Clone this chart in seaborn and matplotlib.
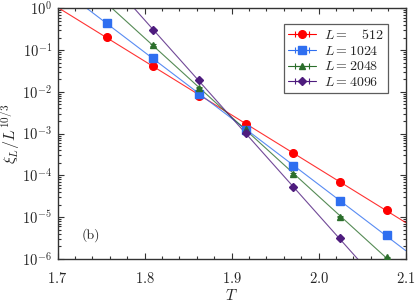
import numpy as np
import pandas as pd
import matplotlib
matplotlib.use("Agg")
import matplotlib.pyplot as plt
import seaborn as sns
from matplotlib.ticker import LogLocator, MultipleLocator, NullFormatter

# ---- data ----
T = [1.757, 1.810, 1.862, 1.916, 1.970, 2.024, 2.079]
L_sizes = [512, 1024, 2048, 4096]
xi_512 = [0.209, 0.0416, 0.00796, 1.67e-3, 3.38e-4, 7.08e-5, 1.49e-5]
xi_1024 = [0.452, 0.0636, 0.00889, 1.22e-3, 1.71e-4, 2.48e-5, 3.75e-6]
T_2048 = [1.810, 1.862, 1.916, 1.970, 2.024, 2.079]
xi_2048 = [0.132, 0.0126, 1.31e-3, 1.08e-4, 1.03e-5, 1.10e-6]
T_4096 = [1.810, 1.862, 1.916, 1.970, 2.024]
xi_4096 = [0.303, 0.0192, 1.04e-3, 5.37e-5, 3.13e-6]
labels = [r"$L=\ \ \ 512$", r"$L=1024$", r"$L=2048$", r"$L=4096$"]

series = [(T, xi_512), (T, xi_1024), (T_2048, xi_2048), (T_4096, xi_4096)]
colors = ["#ff0000", "#2f6ff0", "#2b6e2b", "#4e1c7e"]
markers = ["o", "s", "^", "D"]
msizes = [5.5, 5.5, 5.0, 4.0]

sns.set_theme(style="ticks")
plt.rcParams.update({
    "font.family": "serif",
    "font.serif": ["cmr10", "DejaVu Serif"],
    "mathtext.fontset": "cm",
    "axes.formatter.use_mathtext": True,
    "axes.unicode_minus": False,
    "font.size": 10,
})

fig = plt.figure(figsize=(4.15, 3.02), dpi=100)
ax = fig.add_axes([0.1386, 0.1424, 0.9776 - 0.1386, 0.9725 - 0.1424])

Tfit = np.linspace(1.7, 2.1, 200)
handles = []
for (tt, vv), c, m, ms, lab in zip(series, colors, markers, msizes, labels):
    tt = np.array(tt); vv = np.array(vv)
    p = np.polyfit(tt, np.log10(vv), 1)
    fit_df = pd.DataFrame({"T": Tfit, "xi": 10 ** np.polyval(p, Tfit)})
    sns.lineplot(data=fit_df, x="T", y="xi", ax=ax, color=c, lw=0.8,
                 alpha=0.8, legend=False)
    ax.errorbar(tt, vv, yerr=0.04 * vv, fmt=m, color=c, ms=ms,
                elinewidth=0.8, capsize=2.0, capthick=0.8, zorder=5)
    # legend proxy (placed outside the visible range) showing horizontal bars
    h = ax.errorbar([-10.0], [1e-3], xerr=[0.05], fmt=m + "-", color=c, ms=ms,
                    lw=0.8, elinewidth=0.8, capsize=2.5, capthick=0.8,
                    label=lab)
    handles.append(h)

ax.set_yscale("log")
ax.set_xlim(1.7, 2.1)
ax.set_ylim(1e-6, 1)
ax.xaxis.set_major_locator(MultipleLocator(0.1))
ax.xaxis.set_minor_locator(MultipleLocator(0.02))
ax.yaxis.set_major_locator(LogLocator(base=10, numticks=10))
ax.yaxis.set_minor_locator(LogLocator(base=10, subs=np.arange(2, 10), numticks=20))
ax.yaxis.set_minor_formatter(NullFormatter())
ax.tick_params(which="both", direction="in", top=True, right=True,
               labelsize=10.5, width=0.8, color="#333333")
ax.tick_params(which="major", length=4)
ax.tick_params(which="minor", length=2)
ax.tick_params(axis="x", pad=9)
ax.tick_params(axis="y", pad=4)
for s in ax.spines.values():
    s.set_linewidth(1.0)
    s.set_color("#333333")

ax.set_xlabel(r"$T$", fontsize=11, labelpad=1)
ax.set_ylabel(r"$\xi_L/L^{10/3}$", fontsize=11.5, labelpad=0)
ax.text(0.095, 0.096, "(b)", transform=ax.transAxes, ha="center", va="center",
        fontsize=10)

leg = ax.legend(handles=handles, labels=labels, loc="upper right",
                bbox_to_anchor=(0.96, 0.955), fontsize=10,
                frameon=True, fancybox=False, edgecolor="#333333",
                handlelength=2.0, handletextpad=0.6, borderpad=0.3,
                labelspacing=0.2, borderaxespad=0.3)
leg.get_frame().set_linewidth(0.9)

fig.savefig("out.png", dpi=100)
